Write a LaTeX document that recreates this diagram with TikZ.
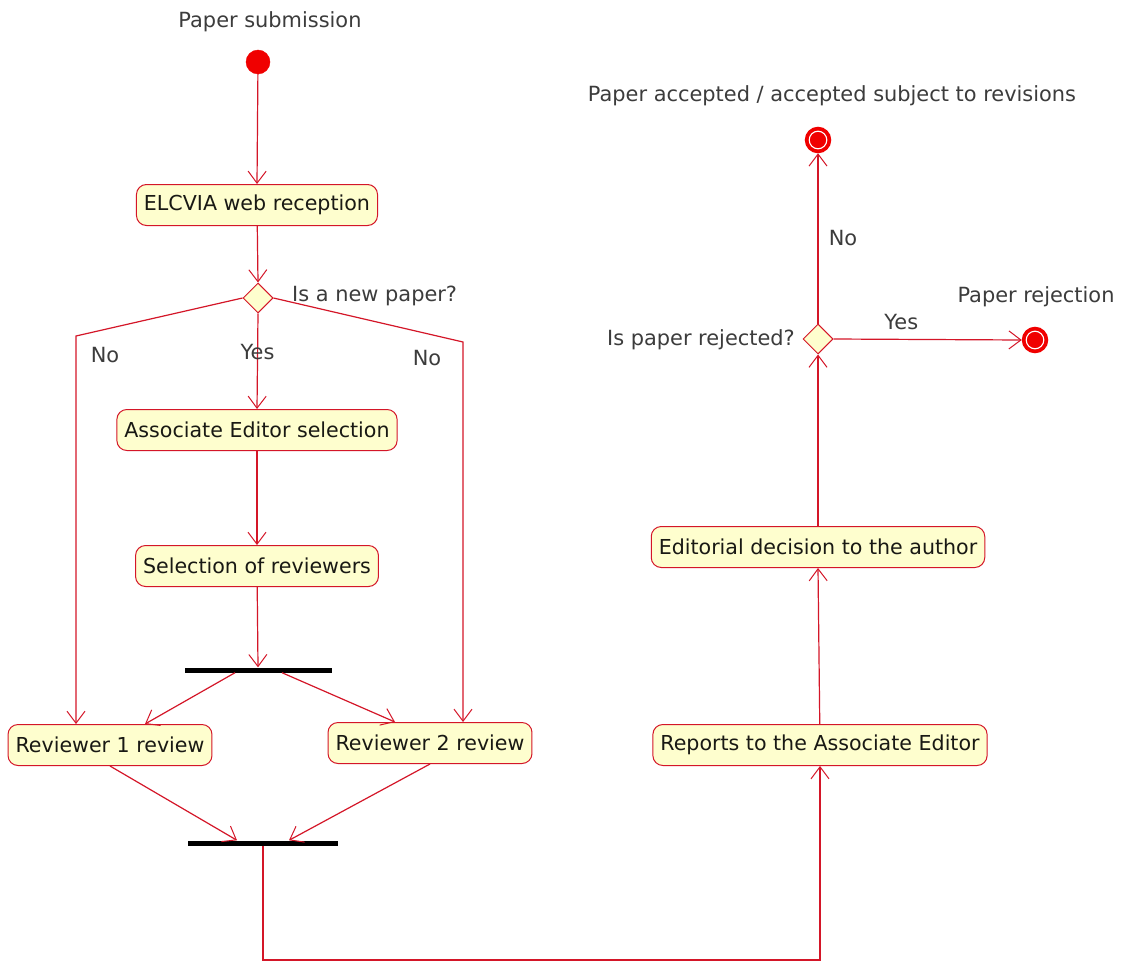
\documentclass[tikz,border=0pt]{standalone}
\usepackage{fontspec}
\setmainfont{DejaVu Sans}
\usetikzlibrary{arrows.meta,shapes.geometric}
\definecolor{linecol}{RGB}{212,22,40}
\definecolor{boxfill}{RGB}{254,254,206}
\definecolor{startred}{RGB}{240,0,0}
\definecolor{labcol}{RGB}{60,60,60}
\definecolor{txtcol}{RGB}{25,25,20}
\tikzset{
  act/.style={draw=linecol, fill=boxfill, rounded corners=10pt, line width=1pt,
    minimum height=41pt, inner xsep=7.5pt, text=txtcol, font=\fontsize{20.6}{24}\selectfont},
  dec/.style={diamond, draw=linecol, fill=boxfill, line width=1pt, minimum size=30pt, inner sep=0pt},
  bar/.style={fill=black, draw=none, minimum height=5pt, inner sep=0pt},
  lab/.style={text=labcol, font=\fontsize{20.9}{24}\selectfont, inner sep=0pt},
  flow/.style={draw=linecol, line width=1.2pt, -{Straight Barb[length=12pt,width=18pt,line width=1pt]}},
  startnode/.style={circle, fill=startred, draw=startred, minimum size=24pt, inner sep=0pt},
  endnode/.style={circle, draw=startred, fill=startred, line width=1.5pt, minimum size=25pt, inner sep=0pt,
    path picture={\draw[white, line width=1.1pt] (path picture bounding box.center) circle (8.8pt);}}
}
\begin{document}
\begin{tikzpicture}[x=1pt,y=-1pt]
\useasboundingbox (0,0) rectangle (1123,963);
\fill[white] (0,0) rectangle (1123,963);

% nodes
\node[lab] (tstart) at (270,22) {Paper submission};
\node[startnode] (start) at (258,62) {};
\node[act] (elc) at (257,205) {ELCVIA web reception};
\node[dec] (d1) at (258,298) {};
\node[lab, anchor=west] (tnew) at (292,296) {Is a new paper?};
\node[act] (aes) at (257,430) {Associate Editor selection};
\node[act] (sel) at (257,566) {Selection of reviewers};
\node[bar, minimum width=147pt] (fork) at (258,670) {};
\node[act] (r1) at (110,745) {Reviewer 1 review};
\node[act] (r2) at (430,743) {Reviewer 2 review};
\node[bar, minimum width=150pt] (join) at (263,843) {};
\node[act] (rep) at (820,745) {Reports to the Associate Editor};
\node[act] (edi) at (818,547) {Editorial decision to the author};
\node[dec] (d2) at (818,339) {};
\node[lab, anchor=east] (trej) at (795,340) {Is paper rejected?};
\node[endnode] (acc) at (818,140) {};
\node[lab] (tacc) at (832,96) {Paper accepted / accepted subject to revisions};
\node[endnode] (rej) at (1035,340) {};
\node[lab] (trejn) at (1036,297) {Paper rejection};

\coordinate (nl) at (76,336);
\coordinate (nr) at (463,342);
\coordinate (bot) at (540,960);

% connectors
\draw[flow] (start) -- (elc.north);
\draw[flow] (elc) -- (d1.north);
\draw[flow] (d1.south) -- node[lab, pos=0.4] {Yes} (aes.north);
\draw[flow] (d1.west) -- (nl) -- (nl |- r1.north);
\draw[flow] (d1.east) -- (nr) -- (nr |- r2.north);
\node[lab] (tno1) at (105,355) {No};
\node[lab] (tno2) at (427,358) {No};
\draw[flow] (aes) -- (sel.north);
\draw[flow] (sel) -- (fork.north);
\draw[flow] ([xshift=-23pt]fork.south) -- ([xshift=35pt]r1.north);
\draw[flow] ([xshift=24pt]fork.south) -- ([xshift=-35pt]r2.north);
\draw[flow] (r1.south) -- ([xshift=-26pt]join.north);
\draw[flow] (r2.south) -- ([xshift=26pt]join.north);
\draw[flow] (join.south) |- (bot) -| (rep.south);
\draw[flow] (rep) -- (edi.south);
\draw[flow] (edi) -- (d2.south);
\draw[flow] (d2.north) -- node[lab, pos=0.5, xshift=25pt] {No} (acc.south);
\draw[flow] (d2.east) -- node[lab, pos=0.36, yshift=17pt] {Yes} (rej.west);
\end{tikzpicture}
\end{document}
